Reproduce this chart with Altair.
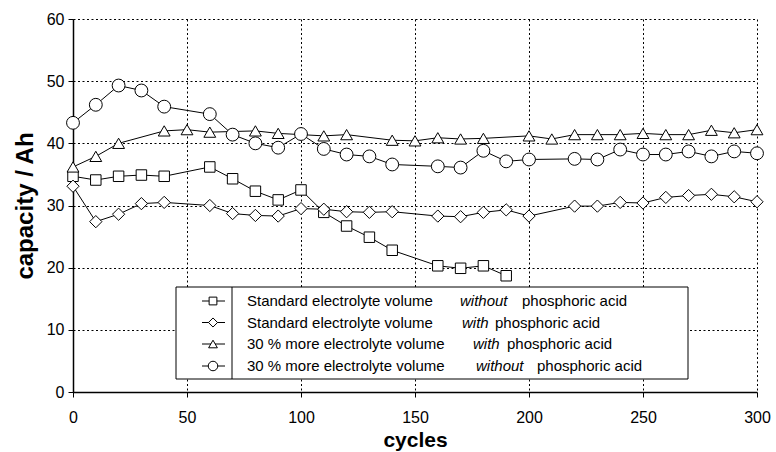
import altair as alt
import pandas as pd

# ---- data ----
sq_x = [0, 10, 20, 30, 40, 60, 70, 80, 90, 100, 110, 120, 130, 140, 160, 170, 180, 190]
sq_y = [34.7, 34.1, 34.7, 34.9, 34.7, 36.2, 34.3, 32.3, 30.9, 32.5, 28.9, 26.7, 24.9, 22.8, 20.3, 19.9, 20.3, 18.7]

di_x = [0, 10, 20, 30, 40, 60, 70, 80, 90, 100, 110, 120, 130, 140, 160, 170, 180, 190, 200,
        220, 230, 240, 250, 260, 270, 280, 290, 300]
di_y = [33.1, 27.4, 28.6, 30.3, 30.5, 30.0, 28.7, 28.4, 28.3, 29.5, 29.4, 29.0, 28.9, 29.0, 28.3, 28.2, 28.9, 29.3, 28.3,
        29.9, 29.9, 30.5, 30.4, 31.3, 31.6, 31.8, 31.4, 30.6]

tr_x = [0, 10, 20, 40, 50, 60, 80, 90, 110, 120, 140, 150, 160, 170, 180, 200, 210,
        220, 230, 240, 250, 260, 270, 280, 290, 300]
tr_y = [36.2, 37.9, 40.0, 42.0, 42.2, 41.8, 42.0, 41.6, 41.2, 41.4, 40.5, 40.4, 40.9, 40.7, 40.8, 41.2, 40.7,
        41.4, 41.4, 41.4, 41.6, 41.4, 41.4, 42.1, 41.7, 42.2]

ci_x = [0, 10, 20, 30, 40, 60, 70, 80, 90, 100, 110, 120, 130, 140, 160, 170, 180, 190, 200,
        220, 230, 240, 250, 260, 270, 280, 290, 300]
ci_y = [43.3, 46.2, 49.3, 48.5, 45.9, 44.7, 41.4, 40.0, 39.3, 41.5, 39.1, 38.2, 37.9, 36.6, 36.3, 36.1, 38.8, 37.1, 37.4,
        37.5, 37.4, 39.0, 38.2, 38.2, 38.7, 37.9, 38.7, 38.4]

series_prefix = ["Standard electrolyte volume", "Standard electrolyte volume",
                 "30 % more electrolyte volume", "30 % more electrolyte volume"]
series_italic = ["without", "with", "with", "without"]
series_suffix = ["phosphoric acid", "phosphoric acid", "phosphoric acid", "phosphoric acid"]
shapes = ["square", "diamond", "triangle-up", "circle"]
sizes = [110, 150, 140, 165]

x_ticks = [0, 50, 100, 150, 200, 250, 300]
y_ticks = [0, 10, 20, 30, 40, 50, 60]

FONT = "Liberation Sans"

xs = alt.Scale(domain=[0, 300], nice=False, zero=False)
ys = alt.Scale(domain=[0, 60], nice=False)

x_axis = alt.Axis(values=x_ticks, title="cycles", titleFontSize=21, titleFontWeight="bold",
                  titleFont=FONT, titleColor="black", titlePadding=4,
                  labelFont=FONT, labelFontSize=16, labelColor="black", labelPadding=12,
                  labelFlush=False, labelOverlap=False,
                  tickColor="black", tickSize=5, domainColor="black", domainWidth=1.5,
                  grid=True, gridColor="black", gridDash=[2, 2.5], gridWidth=1)
y_axis = alt.Axis(values=y_ticks, title="capacity / Ah", titleFontSize=24, titleFontWeight="bold",
                  titleFont=FONT, titleColor="black", titlePadding=9,
                  labelFont=FONT, labelFontSize=16, labelColor="black", labelPadding=4,
                  labelFlush=False, labelOverlap=False,
                  tickColor="black", tickSize=5, domainColor="black", domainWidth=1.5,
                  grid=True, gridColor="black", gridDash=[2, 2.5], gridWidth=1)

xe = alt.X("cycles:Q", scale=xs, axis=x_axis)
ye = alt.Y("capacity:Q", scale=ys, axis=y_axis)

layers = []
all_series = [(sq_x, sq_y), (di_x, di_y), (tr_x, tr_y), (ci_x, ci_y)]
for i, (sx, sy) in enumerate(all_series):
    df = pd.DataFrame({"cycles": sx, "capacity": sy})
    line = alt.Chart(df).mark_line(color="black", strokeWidth=1).encode(x=xe, y=ye)
    pts = alt.Chart(df).mark_point(shape=shapes[i], size=sizes[i], filled=True, fill="white",
                                   stroke="black", strokeWidth=1, opacity=1).encode(x=xe, y=ye)
    layers += [line, pts]

# ---- custom legend (mixed italic text) ----
dummy = pd.DataFrame({"a": [0]})
box = alt.Chart(dummy).mark_rect(fill="white", stroke="black", strokeWidth=1).encode(
    x=alt.value(103), x2=alt.value(615), y=alt.value(268), y2=alt.value(360))
divider = alt.Chart(dummy).mark_rule(color="black", strokeWidth=1).encode(
    x=alt.value(159), y=alt.value(268), y2=alt.value(360))
layers += [box, divider]

row_y = [282, 303.5, 325, 347]
italic_x = [387, 389, 400, 403]
suffix_x = [449, 422, 434, 464]
for i in range(4):
    r = row_y[i]
    layers.append(alt.Chart(dummy).mark_rule(color="black", strokeWidth=1).encode(
        x=alt.value(129), x2=alt.value(152), y=alt.value(r)))
    layers.append(alt.Chart(dummy).mark_point(shape=shapes[i], size=sizes[i] * 0.55, filled=True,
                                              fill="white", stroke="black", strokeWidth=1, opacity=1).encode(
        x=alt.value(140), y=alt.value(r)))
    layers.append(alt.Chart(dummy).mark_text(text=series_prefix[i], align="left", baseline="middle",
                                             font=FONT, fontSize=15, color="black").encode(
        x=alt.value(174), y=alt.value(r)))
    layers.append(alt.Chart(dummy).mark_text(text=series_italic[i], align="left", baseline="middle",
                                             font=FONT, fontSize=15, fontStyle="italic", color="black").encode(
        x=alt.value(italic_x[i]), y=alt.value(r)))
    layers.append(alt.Chart(dummy).mark_text(text=series_suffix[i], align="left", baseline="middle",
                                             font=FONT, fontSize=15, color="black").encode(
        x=alt.value(suffix_x[i]), y=alt.value(r)))

chart = alt.layer(*layers).properties(
    width=684, height=373,
    autosize=alt.AutoSizeParams(type="none"),
    padding={"left": 73, "top": 19, "right": 19, "bottom": 60},
    background="white",
).configure_view(stroke=None)

chart.save("out.html", embed_options={"renderer": "svg", "actions": False})
